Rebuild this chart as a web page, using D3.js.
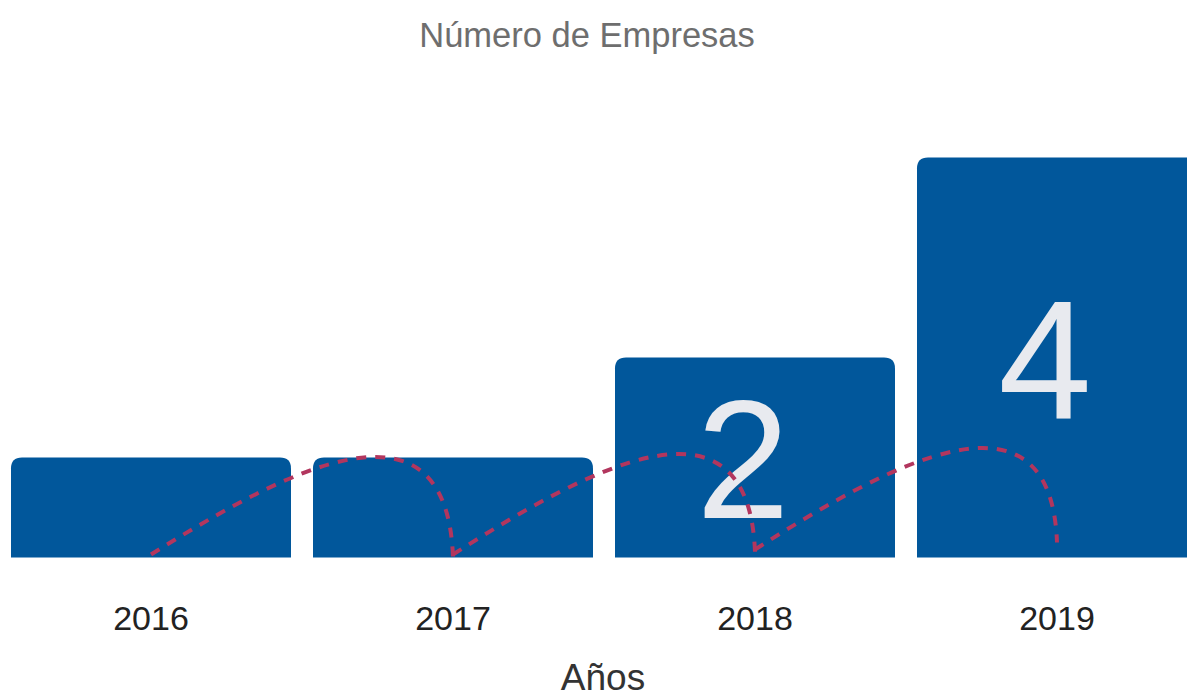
<!DOCTYPE html>
<html>
<head>
<meta charset="utf-8">
<script src="https://cdn.jsdelivr.net/npm/d3@7"></script>
<style>
  html, body { margin: 0; padding: 0; background: #fff; overflow: hidden; }
  svg { display: block; }
</style>
</head>
<body>
<svg id="chart" width="1187" height="697"></svg>
<script>
// ---- data ----
const categories = ["2016", "2017", "2018", "2019"];
const values = [1, 1, 2, 4];
const yTicks = [0, 1, 2, 3, 4];
// dashed connector arcs between consecutive years (values in data units)
const arcFrom = ["2016", "2017", "2018"];
const arcTo = ["2017", "2018", "2019"];
const arcStart = [0.03, 0.03, 0.08];
const arcEnd = [0.0, 0.05, 0.15];
const arcPeak = [1.03, 1.05, 1.10];
const titleText = "Número de Empresas";
const xTitleText = "Años";

// ---- layout ----
const W = 1187, H = 697;
const svg = d3.select("#chart");

const x = d3.scaleBand()
  .domain(categories)
  .range([0, 1208])
  .paddingInner(22 / 302)
  .paddingOuter(11 / 302);

const y = d3.scaleLinear()
  .domain([0, 4])
  .range([557.5, 157.5]);

const barColor = "#01579b";
const lineColor = "#b2365e";

// bars with rounded top corners
function topRoundedRect(x0, y0, w, h, r) {
  r = Math.min(r, h, w / 2);
  const p = d3.path();
  p.moveTo(x0, y0 + h);
  p.lineTo(x0, y0 + r);
  p.quadraticCurveTo(x0, y0, x0 + r, y0);
  p.lineTo(x0 + w - r, y0);
  p.quadraticCurveTo(x0 + w, y0, x0 + w, y0 + r);
  p.lineTo(x0 + w, y0 + h);
  p.closePath();
  return p.toString();
}

const data = categories.map((c, i) => ({ cat: c, value: values[i] }));

svg.append("g").selectAll("path")
  .data(data)
  .join("path")
  .attr("d", d => topRoundedRect(x(d.cat), y(d.value), x.bandwidth(), y(0) - y(d.value), 11))
  .attr("fill", barColor);

// value labels (only where they fit)
const labelSize = 168;
svg.append("g").selectAll("text")
  .data(data.filter(d => (y(0) - y(d.value)) > labelSize))
  .join("text")
  .attr("x", d => x(d.cat) + x.bandwidth() / 2)
  .attr("dx", -12)
  .attr("y", d => (y(d.value) + y(0)) / 2)
  .attr("dy", "0.36em")
  .attr("text-anchor", "middle")
  .attr("font-family", "Liberation Sans, Arial, sans-serif")
  .attr("font-size", labelSize)
  .attr("fill", "#e8eaef")
  .text(d => d.value);

// dashed arcs
const arcs = arcFrom.map((f, i) => ({ from: f, to: arcTo[i], s: arcStart[i], e: arcEnd[i], p: arcPeak[i] }));
svg.append("g").selectAll("path")
  .data(arcs)
  .join("path")
  .attr("d", a => {
    const x0 = x(a.from) + x.bandwidth() / 2;
    const x3 = x(a.to) + x.bandwidth() / 2;
    const p = d3.path();
    p.moveTo(x0, y(a.s));
    p.bezierCurveTo(
      x0 + (x3 - x0) * 0.45, y(a.s + 0.85 * (a.p - a.s)),
      x3 - (x3 - x0) * 0.02, y(a.s + 1.7 * (a.p - a.s)),
      x3, y(a.e)
    );
    return p.toString();
  })
  .attr("fill", "none")
  .attr("stroke", lineColor)
  .attr("stroke-width", 4)
  .attr("stroke-dasharray", "10 9");

// x axis
const xAxis = d3.axisBottom(x).tickSize(0).tickPadding(0);
const gx = svg.append("g")
  .attr("transform", `translate(0, ${y(0)})`)
  .call(xAxis);
gx.select(".domain").remove();
gx.selectAll("text")
  .attr("y", 72)
  .attr("dy", 0)
  .attr("font-family", "Liberation Sans, Arial, sans-serif")
  .attr("font-size", 34)
  .attr("fill", "#222");

// titles
svg.append("text")
  .attr("x", 587)
  .attr("y", 47)
  .attr("text-anchor", "middle")
  .attr("font-family", "Liberation Sans, Arial, sans-serif")
  .attr("font-size", 34.5)
  .attr("fill", "#6e6e6e")
  .text(titleText);

svg.append("text")
  .attr("x", 603)
  .attr("y", 690)
  .attr("text-anchor", "middle")
  .attr("font-family", "Liberation Sans, Arial, sans-serif")
  .attr("font-size", 37)
  .attr("fill", "#333")
  .text(xTitleText);
</script>
</body>
</html>
